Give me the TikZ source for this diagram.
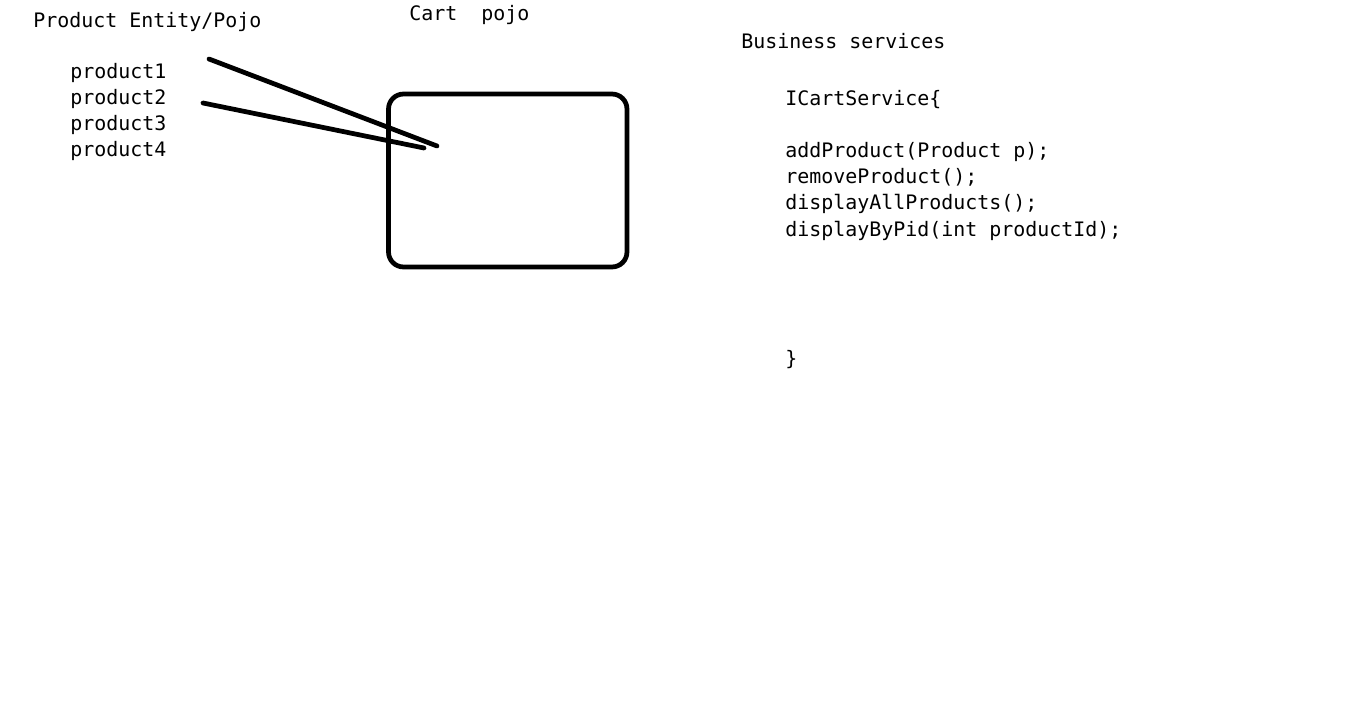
\documentclass[tikz,border=0pt]{standalone}
\usepackage{fontspec}
\setmonofont{DejaVu Sans Mono}

\begin{document}
\begin{tikzpicture}[x=0.02cm,y=-0.02cm,
    codetext/.style={anchor=base west,inner sep=0pt,font=\ttfamily\fontsize{11.35}{13}\selectfont},
    penline/.style={line width=0.095cm,line cap=round,line join=round}]
    \useasboundingbox[fill=white] (0,0) rectangle (1355,716);
    % product side
    \node[codetext] (entity) at (33,28) {Product Entity/Pojo};
    \node[codetext] (prodA) at (70,79) {product1};
    \node[codetext] (prodB) at (70,105) {product2};
    \node[codetext] (prodC) at (70,131) {product3};
    \node[codetext] (prodD) at (70,157) {product4};
    % cart
    \node[codetext] (cartlabel) at (409,21) {Cart~~pojo};
    \node[draw,penline,rounded corners=0.3cm,minimum width=4.77cm,minimum height=3.46cm] (cart) at (507.75,180.5) {};
    \coordinate (tailA) at (209,59);
    \coordinate (tipA) at (437,146);
    \coordinate (tailB) at (203,103);
    \coordinate (tipB) at (424,148);
    \draw[penline] (tailA) -- (tipA);
    \draw[penline] (tailB) -- (tipB);
    % services
    \node[codetext] (business) at (741,49) {Business services};
    \node[codetext] (iface) at (785,106) {ICartService\{};
    \node[codetext] (addp) at (785,158) {addProduct(Product p);};
    \node[codetext] (remp) at (785,184) {removeProduct();};
    \node[codetext] (dispall) at (785,210) {displayAllProducts();};
    \node[codetext] (disppid) at (785,236) {displayByPid(int productId);};
    \node[codetext] (closing) at (785,365) {\}};
\end{tikzpicture}
\end{document}
